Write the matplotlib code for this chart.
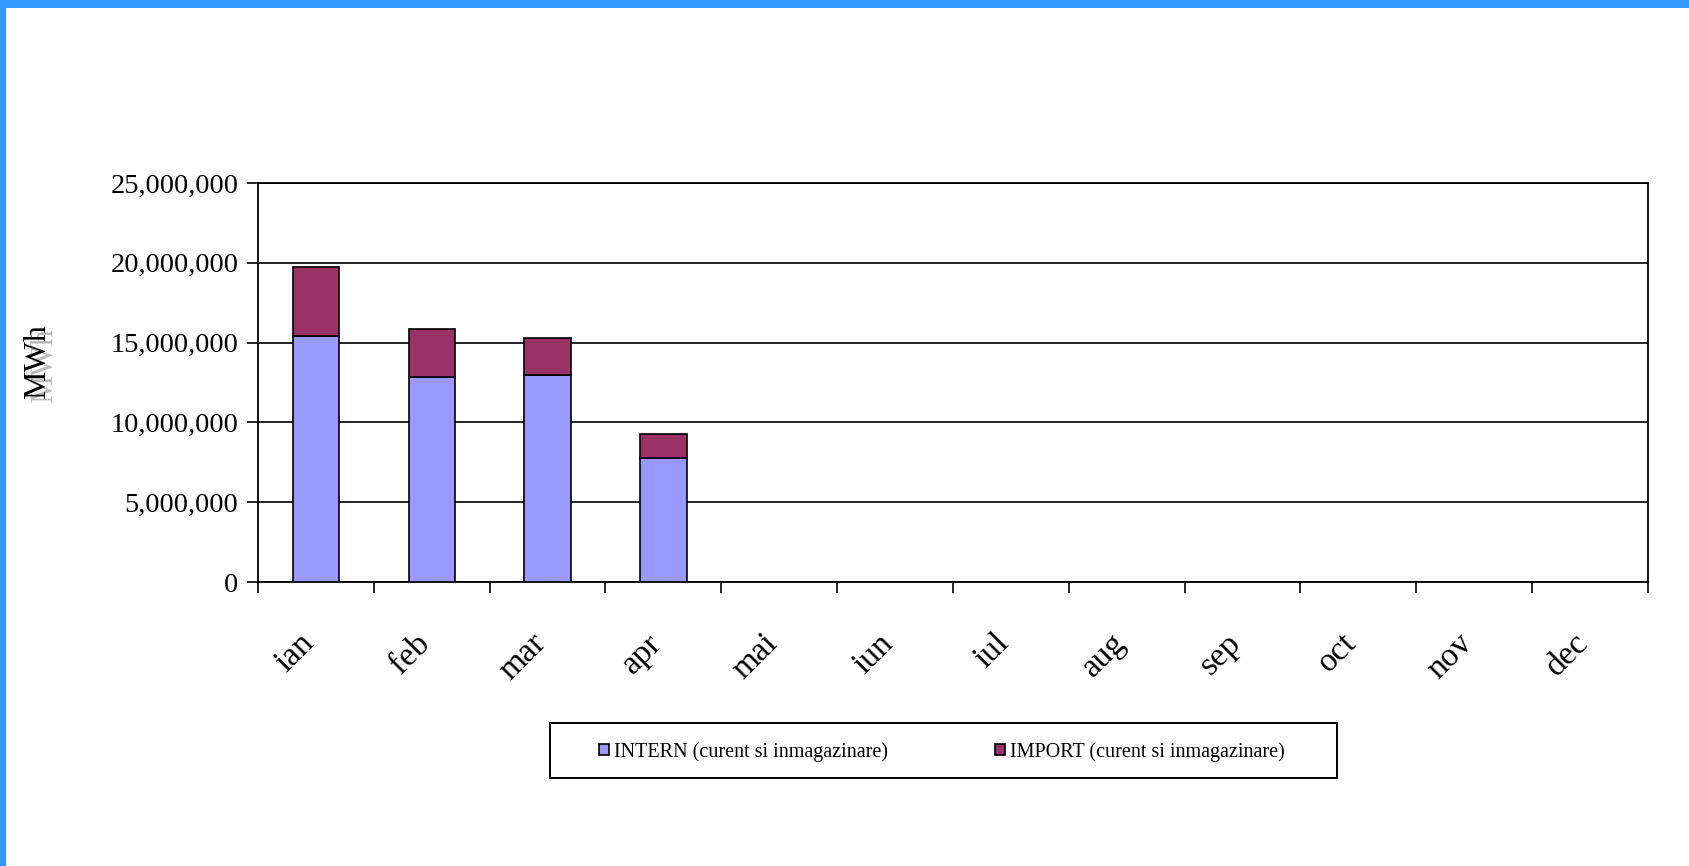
import matplotlib
matplotlib.use("Agg")
import matplotlib.pyplot as plt
from matplotlib.patches import Rectangle
from matplotlib.ticker import FuncFormatter, FixedLocator
from matplotlib.transforms import ScaledTranslation
import numpy as np

months = ["ian", "feb", "mar", "apr", "mai", "iun", "iul", "aug", "sep", "oct", "nov", "dec"]
intern = [15.4e6, 12.85e6, 12.95e6, 7.8e6, 0, 0, 0, 0, 0, 0, 0, 0]
imports = [4.35e6, 3.0e6, 2.33e6, 1.5e6, 0, 0, 0, 0, 0, 0, 0, 0]
series_labels = ["INTERN (curent si inmagazinare)", "IMPORT (curent si inmagazinare)"]
series_colors = ["#9999FF", "#993366"]
y_ticks = [0, 5e6, 10e6, 15e6, 20e6, 25e6]
y_label = "MWh"

plt.rcParams["font.family"] = ["Liberation Serif", "DejaVu Serif"]

fig = plt.figure(figsize=(16.89, 8.66), dpi=100)
fig.patch.set_facecolor("white")

# blue page border (top and left)
fig.add_artist(Rectangle((0, 1 - 8 / 866), 1, 8 / 866, transform=fig.transFigure,
                         facecolor="#3399FF", edgecolor="none", zorder=0))
fig.add_artist(Rectangle((0, 0), 6 / 1689, 1, transform=fig.transFigure,
                         facecolor="#3399FF", edgecolor="none", zorder=0))

ax = fig.add_axes([258 / 1689, 1 - 582 / 866, (1648 - 258) / 1689, (582 - 183) / 866])
x = np.arange(len(months))
valid = [i for i, v in enumerate(intern) if v + imports[i] > 0]
xv = x[valid]
b1 = ax.bar(xv, [intern[i] for i in valid], width=0.4, color=series_colors[0],
            edgecolor="black", linewidth=1.2, label=series_labels[0], zorder=3)
b2 = ax.bar(xv, [imports[i] for i in valid], width=0.4, bottom=[intern[i] for i in valid],
            color=series_colors[1], edgecolor="black", linewidth=1.2,
            label=series_labels[1], zorder=3)

ax.set_xlim(-0.5, len(months) - 0.5)
ax.set_ylim(0, 25e6)
ax.set_yticks(y_ticks)
ax.yaxis.set_major_formatter(FuncFormatter(lambda v, p: f"{int(v):,}"))
ax.grid(axis="y", color="black", linewidth=1.2, zorder=1)
ax.set_axisbelow(True)

ax.xaxis.set_major_locator(FixedLocator(np.arange(-0.5, len(months), 1)))
ax.xaxis.set_minor_locator(FixedLocator(x))
ax.set_xticklabels([], minor=False)
ax.set_xticklabels(months, minor=True, rotation=45, ha="right", rotation_mode="anchor",
                   fontsize=24)
ax.tick_params(axis="x", which="major", length=8, width=1.2, direction="out", color="black")
ax.tick_params(axis="x", which="minor", length=0, pad=33)
ax.tick_params(axis="y", which="major", length=8, width=1.2, direction="out",
               labelsize=20.5, pad=6)
shift = ScaledTranslation(-17 / 100, 0, fig.dpi_scale_trans)
for lbl in ax.get_xticklabels(minor=True):
    lbl.set_transform(lbl.get_transform() + shift)

for s in ax.spines.values():
    s.set_linewidth(1.3)
    s.set_color("black")

# y label with gray shadow
fig.text(45 / 1689, 1 - 366 / 866, y_label, rotation=90, fontsize=23, color="#BBBBBB",
         ha="center", va="center")
fig.text(38 / 1689, 1 - 362 / 866, y_label, rotation=90, fontsize=23, color="black",
         ha="center", va="center")

# legend
leg = fig.legend(handles=[b1, b2], labels=series_labels, loc="center left",
                 bbox_to_anchor=(589 / 1689, 1 - 752 / 866), ncol=2, frameon=False,
                 fontsize=14.5, handlelength=0.5, handleheight=0.5, handletextpad=0.25,
                 columnspacing=5.3, borderpad=0)
fig.add_artist(Rectangle((550 / 1689, 1 - 778 / 866), 787 / 1689, 55 / 866,
                         transform=fig.transFigure, facecolor="none",
                         edgecolor="black", linewidth=1.4))

fig.savefig("out.png", dpi=100, facecolor="white")
